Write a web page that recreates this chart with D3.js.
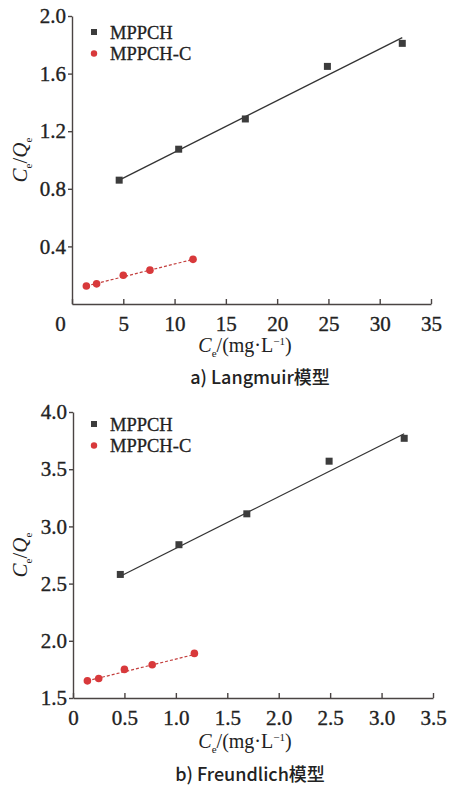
<!DOCTYPE html>
<html>
<head>
<meta charset="utf-8">
<script src="https://cdn.jsdelivr.net/npm/d3@7"></script>
<style>
    body { margin: 0; background: #fff; }
    text { font-family: 'Liberation Serif', 'DejaVu Serif', serif; fill: #222; }
    .caption { font-family: 'Noto Sans CJK SC', sans-serif; font-weight: 500; }
</style>
</head>
<body>
<script>
// panel a) Langmuir
var langX1 = [4.6, 10.4, 16.9, 24.9, 32.2];
var langY1 = [0.86, 1.075, 1.285, 1.65, 1.81];
var langX2 = [1.4, 2.4, 5.0, 7.6, 11.8];
var langY2 = [0.125, 0.14, 0.2, 0.235, 0.31];
var langFit1 = [[4.6, 0.86], [32.2, 1.85]];
var langFit2 = [[1.4, 0.125], [11.8, 0.31]];
var langXTicks = [0, 5, 10, 15, 20, 25, 30, 35];
var langYTicks = [0.4, 0.8, 1.2, 1.6, 2.0];

// panel b) Freundlich
var freX1 = [0.46, 1.03, 1.69, 2.49, 3.22];
var freY1 = [2.58, 2.84, 3.11, 3.57, 3.77];
var freX2 = [0.14, 0.25, 0.5, 0.77, 1.18];
var freY2 = [1.65, 1.67, 1.75, 1.79, 1.89];
var freFit1 = [[0.45, 2.56], [3.22, 3.81]];
var freFit2 = [[0.14, 1.65], [1.18, 1.88]];
var freXTicks = [0, 0.5, 1.0, 1.5, 2.0, 2.5, 3.0, 3.5];
var freYTicks = [1.5, 2.0, 2.5, 3.0, 3.5, 4.0];

var seriesNames = ['MPPCH', 'MPPCH-C'];

var w = 453, h = 787;
var axisColor = '#4a4443';
var darkColor = '#3c3c3c';
var redColor = '#d8393b';
var serif = "'Liberation Serif', 'DejaVu Serif', serif";

var svg = d3.select('body')
    .append('svg')
    .attr('width', w)
    .attr('height', h);

function drawPanel(cfg) {
    var x = d3.scaleLinear().domain(cfg.xDomain).range([cfg.left, cfg.right]);
    var y = d3.scaleLinear().domain(cfg.yDomain).range([cfg.bottom, cfg.top]);
    var g = svg.append('g');

    var xAxis = g.append('g')
        .attr('transform', 'translate(0,' + cfg.bottom + ')')
        .call(d3.axisBottom(x).tickValues(cfg.xTicks).tickSize(-5).tickSizeOuter(0)
            .tickFormat(cfg.xFormat))
        .attr('font-family', serif)
        .attr('font-size', 21);
    xAxis.selectAll('text')
        .attr('y', 12)
        .attr('dy', '0.71em')
        .attr('dx', function(d) { return d === 0 ? cfg.zeroShift : 0; });

    var yAxis = g.append('g')
        .attr('transform', 'translate(' + cfg.left + ',0)')
        .call(d3.axisLeft(y).tickValues(cfg.yTicks).tickSize(4).tickSizeOuter(0)
            .tickFormat(d3.format('.1f')))
        .attr('font-family', serif)
        .attr('font-size', 21);
    yAxis.selectAll('text')
        .attr('x', -6);

    g.selectAll('.domain, .tick line')
        .attr('stroke', axisColor)
        .attr('stroke-width', 1.4);
    // slightly heavier digits, like the scanned figure
    g.selectAll('.tick text')
        .attr('fill', '#222')
        .attr('stroke', '#222')
        .attr('stroke-width', 0.35);

    var line = d3.line()
        .x(function(d) { return x(d[0]); })
        .y(function(d) { return y(d[1]); });

    g.append('path')
        .datum(cfg.fit1)
        .attr('d', line)
        .attr('fill', 'none')
        .attr('stroke', '#333')
        .attr('stroke-width', 1.3);

    g.append('path')
        .datum(cfg.fit2)
        .attr('d', line)
        .attr('fill', 'none')
        .attr('stroke', '#c4403f')
        .attr('stroke-width', 1.2)
        .attr('stroke-dasharray', '3,2');

    g.selectAll('.sq')
        .data(cfg.xs1)
        .enter()
        .append('rect')
        .attr('x', function(d) { return x(d) - 3.5; })
        .attr('y', function(d, i) { return y(cfg.ys1[i]) - 3.5; })
        .attr('width', 7)
        .attr('height', 7)
        .style('fill', darkColor);

    g.selectAll('.dot')
        .data(cfg.xs2)
        .enter()
        .append('circle')
        .attr('cx', function(d) { return x(d); })
        .attr('cy', function(d, i) { return y(cfg.ys2[i]); })
        .attr('r', 3.8)
        .style('fill', redColor);

    // legend
    var leg = g.append('g').attr('transform', 'translate(94,' + cfg.legendY + ')');
    leg.append('rect').attr('x', -3).attr('y', -3).attr('width', 6).attr('height', 6).style('fill', darkColor);
    leg.append('circle').attr('cx', 0).attr('cy', 21.5).attr('r', 3.2).style('fill', redColor);
    leg.selectAll('.lt')
        .data(seriesNames)
        .enter()
        .append('text')
        .attr('x', 16)
        .attr('y', function(d, i) { return i * 21.5 + 6.5; })
        .style('font-size', '18.5px')
        .attr('stroke', '#222')
        .attr('stroke-width', 0.3)
        .text(function(d) { return d; });

    // y title
    var yt = g.append('text')
        .attr('transform', 'translate(' + 27 + ',' + (cfg.top + cfg.bottom) / 2 + ') rotate(-90)')
        .attr('text-anchor', 'middle')
        .style('font-size', '21px');
    yt.append('tspan').style('font-style', 'italic').text('C');
    yt.append('tspan').attr('dy', 5).style('font-size', '11px').text('e');
    yt.append('tspan').attr('dy', -5).text('/');
    yt.append('tspan').style('font-style', 'italic').text('Q');
    yt.append('tspan').attr('dy', 5).style('font-size', '11px').text('e');

    // x title
    var xt = g.append('text')
        .attr('x', 245)
        .attr('y', cfg.xTitleY)
        .attr('text-anchor', 'middle')
        .style('font-size', '20px');
    xt.append('tspan').style('font-style', 'italic').text('C');
    xt.append('tspan').attr('dy', 5).style('font-size', '11px').text('e');
    xt.append('tspan').attr('dy', -5).text('/(mg·L');
    xt.append('tspan').attr('dy', -7).style('font-size', '11px').text('−1');
    xt.append('tspan').attr('dy', 7).text(')');

    g.append('text')
        .attr('class', 'caption')
        .attr('x', cfg.captionX)
        .attr('y', cfg.captionY)
        .attr('text-anchor', 'middle')
        .style('font-size', '18px')
        .text(cfg.caption);
}

drawPanel({
    xDomain: [0, 35], yDomain: [0, 2.0],
    left: 72, right: 431, top: 16, bottom: 304,
    xTicks: langXTicks, yTicks: langYTicks,
    xFormat: d3.format('d'), zeroShift: -12,
    xs1: langX1, ys1: langY1, xs2: langX2, ys2: langY2,
    fit1: langFit1, fit2: langFit2,
    legendY: 32, xTitleY: 352, captionX: 260, captionY: 384,
    caption: 'a) Langmuir模型'
});

drawPanel({
    xDomain: [0, 3.5], yDomain: [1.5, 4.0],
    left: 73, right: 433, top: 412, bottom: 698,
    xTicks: freXTicks, yTicks: freYTicks,
    xFormat: function(d) { return d === 0 ? '0' : d3.format('.1f')(d); }, zeroShift: 0,
    xs1: freX1, ys1: freY1, xs2: freX2, ys2: freY2,
    fit1: freFit1, fit2: freFit2,
    legendY: 424, xTitleY: 748, captionX: 250, captionY: 781,
    caption: 'b) Freundlich模型'
});
</script>
</body>
</html>
